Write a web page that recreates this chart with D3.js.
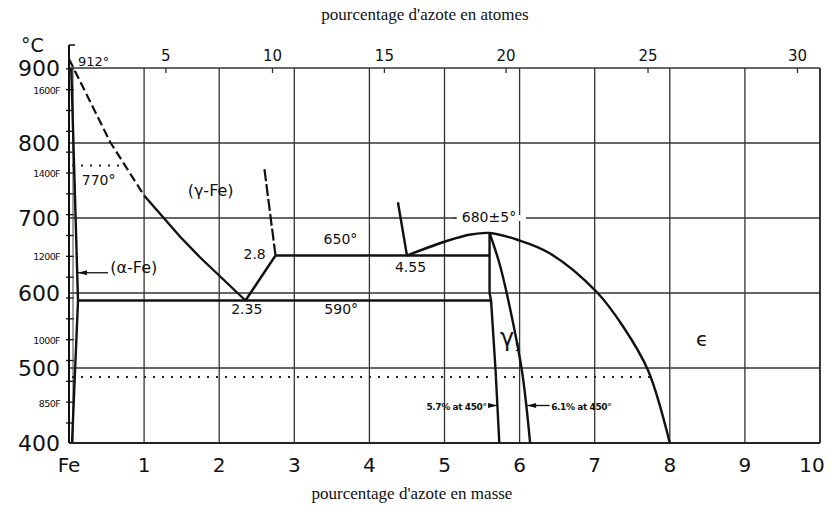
<!DOCTYPE html>
<html>
<head>
<meta charset="utf-8">
<script src="https://cdn.jsdelivr.net/npm/d3@7"></script>
<style>
  body { margin: 0; background: #fff; }
  text { font-family: "DejaVu Sans", sans-serif; fill: #111; }
  .title { font-family: "Liberation Serif", "DejaVu Serif", serif; }
</style>
</head>
<body>
<svg id="chart" width="830" height="506"></svg>
<script>
// --- data (mass % N, temperature °C) ---
var massTicks = [0, 1, 2, 3, 4, 5, 6, 7, 8, 9, 10];
var massLabels = ["Fe", "1", "2", "3", "4", "5", "6", "7", "8", "9", "10"];
var tempTicks = [900, 800, 700, 600, 500, 400];
var atomLabels = ["5", "10", "15", "20", "25", "30"];
var atomTickMass = [1.29, 2.71, 4.2, 5.82, 7.71, 9.7];
var fLabels = ["1600F", "1400F", "1200F", "1000F", "850F"];
var fLabelTemps = [871, 760, 649, 538, 454];

var alphaGammaDashed = [[0, 912], [0.55, 801], [1.0, 730]];
var alphaGammaSolid = [[1.0, 730], [1.48, 675], [1.74, 648], [2.35, 590]];
var eutectoidRise = [[2.35, 590], [2.75, 650]];
var gammaUpper = [[2.75, 650], [2.6, 767]];
var line650 = [[2.75, 650], [5.6, 650]];
var line590 = [[0.12, 590], [5.62, 590]];
var upper455 = [[4.5, 650], [4.38, 721]];
var domeCurve = [[4.5, 650], [5.05, 670], [5.35, 678], [5.6, 680], [5.97, 671],
                 [6.4, 653], [7.03, 601], [7.38, 555], [7.71, 497], [8.0, 400]];
var gammaPrimeLeft = [[5.6, 680], [5.6, 600], [5.62, 590], [5.68, 497], [5.73, 400]];
var gammaPrimeRight = [[5.6, 680], [5.73, 640], [5.85, 590], [6.03, 497], [6.14, 400]];
var alphaSolvus = [[0.03, 900], [0.12, 590], [0.04, 400]];
var dotted770 = [[0.04, 770], [0.7, 770]];
var dotted488 = [[0.04, 488], [7.75, 488]];

var svg = d3.select("svg#chart");

var x = d3.scaleLinear().domain([0, 10]).range([69, 820]);
var y = d3.scaleLinear().domain([400, 900]).range([443, 68]);

var line = d3.line().x(d => x(d[0])).y(d => y(d[1]));
var smooth = d3.line().x(d => x(d[0])).y(d => y(d[1])).curve(d3.curveCatmullRom.alpha(0.5));

// grid
svg.selectAll("line.vgrid")
  .data(massTicks.slice(1, 10))
  .enter().append("line")
  .attr("class", "vgrid")
  .attr("x1", d => x(d)).attr("x2", d => x(d))
  .attr("y1", y(900)).attr("y2", y(400))
  .attr("stroke", "#333").attr("stroke-width", 1.3);

svg.selectAll("line.hgrid")
  .data(tempTicks)
  .enter().append("line")
  .attr("class", "hgrid")
  .attr("x1", x(0)).attr("x2", x(10))
  .attr("y1", d => y(d)).attr("y2", d => y(d))
  .attr("stroke", "#333").attr("stroke-width", 1.3);

// frame
svg.append("line").attr("x1", x(0)).attr("x2", x(0)).attr("y1", 45).attr("y2", y(400))
  .attr("stroke", "#111").attr("stroke-width", 2);
svg.append("line").attr("x1", x(10)).attr("x2", x(10)).attr("y1", y(900)).attr("y2", y(400))
  .attr("stroke", "#222").attr("stroke-width", 1.8);
svg.append("line").attr("x1", x(0)).attr("x2", x(10)).attr("y1", y(400)).attr("y2", y(400))
  .attr("stroke", "#222").attr("stroke-width", 2);
svg.append("line").attr("x1", x(0)).attr("x2", x(0) + 6).attr("y1", 45).attr("y2", 45)
  .attr("stroke", "#111").attr("stroke-width", 1.5);

// fahrenheit ladder on the left edge
var fScale = d3.scaleLinear().domain([400 * 1.8 + 32, 900 * 1.8 + 32]).range([443, 68]);
svg.selectAll("line.fTick")
  .data(d3.range(800, 1651, 50))
  .enter().append("line")
  .attr("class", "fTick")
  .attr("x1", x(0) - 3).attr("x2", x(0) + 5)
  .attr("y1", d => fScale(d)).attr("y2", d => fScale(d))
  .attr("stroke", "#111").attr("stroke-width", 1.3);
svg.append("line").attr("x1", x(0) + 4).attr("x2", x(0) + 4).attr("y1", y(900)).attr("y2", y(400))
  .attr("stroke", "#444").attr("stroke-width", 1);

// at% ticks on top
svg.selectAll("line.atTick")
  .data(atomTickMass)
  .enter().append("line")
  .attr("class", "atTick")
  .attr("x1", d => x(d)).attr("x2", d => x(d))
  .attr("y1", y(900)).attr("y2", y(900) + 5)
  .attr("stroke", "#333").attr("stroke-width", 1.3);

// white gap for 680 label on the 700 line
svg.append("rect").attr("x", 456).attr("y", y(700) - 3).attr("width", 70).attr("height", 6)
  .attr("fill", "#fff");
svg.append("line").attr("x1", 453).attr("x2", 457).attr("y1", y(700)).attr("y2", y(700))
  .attr("stroke", "#333").attr("stroke-width", 1.3);

// phase boundaries
var solid = [alphaGammaSolid, eutectoidRise, line650, line590, upper455, gammaPrimeLeft, alphaSolvus];
svg.selectAll("path.boundary")
  .data(solid)
  .enter().append("path")
  .attr("class", "boundary")
  .attr("d", line)
  .attr("fill", "none").attr("stroke", "#111").attr("stroke-width", 2.4);

svg.append("path").attr("d", smooth(domeCurve))
  .attr("fill", "none").attr("stroke", "#111").attr("stroke-width", 2.4);
svg.append("path").attr("d", smooth(gammaPrimeRight))
  .attr("fill", "none").attr("stroke", "#111").attr("stroke-width", 2.4);

svg.append("path").attr("d", line(alphaGammaDashed))
  .attr("fill", "none").attr("stroke", "#111").attr("stroke-width", 2.2)
  .attr("stroke-dasharray", "9,4");
svg.append("path").attr("d", line(gammaUpper))
  .attr("fill", "none").attr("stroke", "#111").attr("stroke-width", 2.2)
  .attr("stroke-dasharray", "12,3");

svg.selectAll("path.dotted")
  .data([dotted770, dotted488])
  .enter().append("path")
  .attr("class", "dotted")
  .attr("d", line)
  .attr("fill", "none").attr("stroke", "#222").attr("stroke-width", 2)
  .attr("stroke-dasharray", "2,7");

// axis labels
svg.selectAll("text.tempLabel")
  .data(tempTicks)
  .enter().append("text")
  .attr("class", "tempLabel")
  .attr("x", 60).attr("y", d => y(d) + 8)
  .attr("text-anchor", "end")
  .attr("font-size", 22)
  .text(d => d);

svg.append("text").attr("x", 21).attr("y", 52).attr("font-size", 19).text("°C");

svg.selectAll("text.fLabel")
  .data(fLabels)
  .enter().append("text")
  .attr("class", "fLabel")
  .attr("x", 60).attr("y", (d, i) => y(fLabelTemps[i]) + 4)
  .attr("text-anchor", "end")
  .attr("font-size", 9.5)
  .attr("letter-spacing", -0.6)
  .text(d => d);

svg.selectAll("text.massLabel")
  .data(massTicks)
  .enter().append("text")
  .attr("class", "massLabel")
  .attr("x", (d, i) => i == 10 ? x(d) - 8 : x(d))
  .attr("y", 472)
  .attr("text-anchor", "middle")
  .attr("font-size", 20)
  .text((d, i) => massLabels[i]);

svg.selectAll("text.atLabel")
  .data(atomTickMass)
  .enter().append("text")
  .attr("class", "atLabel")
  .attr("x", d => x(d)).attr("y", 61)
  .attr("text-anchor", "middle")
  .attr("font-size", 15)
  .text((d, i) => atomLabels[i]);

svg.append("text").attr("class", "title")
  .attr("x", 425).attr("y", 20).attr("text-anchor", "middle").attr("font-size", 17)
  .text("pourcentage d'azote en atomes");
svg.append("text").attr("class", "title")
  .attr("x", 412).attr("y", 499).attr("text-anchor", "middle").attr("font-size", 17)
  .text("pourcentage d'azote en masse");

// annotations
var notes = [
  {t: "912°", m: 0.12, c: 903, s: 13, a: "start"},
  {t: "770°", m: 0.17, c: 744, s: 14, a: "start"},
  {t: "(α-Fe)", m: 0.55, c: 627, s: 16, a: "start"},
  {t: "(γ-Fe)", m: 1.58, c: 730, s: 16, a: "start"},
  {t: "2.8", m: 2.62, c: 645, s: 14, a: "end"},
  {t: "650°", m: 3.39, c: 665, s: 14, a: "start"},
  {t: "4.55", m: 4.34, c: 628, s: 14, a: "start"},
  {t: "2.35", m: 2.16, c: 572, s: 14, a: "start"},
  {t: "590°", m: 3.4, c: 572, s: 14, a: "start"},
  {t: "680±5°", m: 5.23, c: 695, s: 14, a: "start"},
  {t: "ϵ", m: 8.43, c: 529, s: 20, a: "middle"}
];
svg.selectAll("text.note")
  .data(notes)
  .enter().append("text")
  .attr("class", "note")
  .attr("x", d => x(d.m)).attr("y", d => y(d.c))
  .attr("text-anchor", d => d.a)
  .attr("font-size", d => d.s)
  .text(d => d.t);

var gammaOne = svg.append("text").attr("x", x(5.74)).attr("y", y(530)).attr("font-size", 24);
gammaOne.append("tspan").text("γ");
gammaOne.append("tspan").attr("font-size", 11).attr("dy", 5).text("1");

svg.append("text").attr("x", x(5.56)).attr("y", y(450) + 4).attr("text-anchor", "end")
  .attr("font-size", 9).attr("font-weight", "bold").attr("letter-spacing", -0.4)
  .text("5.7% at 450°");
svg.append("text").attr("x", x(6.42)).attr("y", y(450) + 4)
  .attr("font-size", 9).attr("font-weight", "bold").attr("letter-spacing", -0.4)
  .text("6.1% at 450°");

// arrows
var arrows = [
  {from: [0.52, 627], to: [0.12, 627]},
  {from: [5.58, 450], to: [5.7, 450]},
  {from: [6.4, 450], to: [6.1, 450]}
];
svg.selectAll("line.arrow")
  .data(arrows)
  .enter().append("line")
  .attr("class", "arrow")
  .attr("x1", d => x(d.from[0])).attr("y1", d => y(d.from[1]))
  .attr("x2", d => x(d.to[0])).attr("y2", d => y(d.to[1]))
  .attr("stroke", "#111").attr("stroke-width", 1.3);
svg.selectAll("path.head")
  .data(arrows)
  .enter().append("path")
  .attr("class", "head")
  .attr("d", function(d) {
    var tx = x(d.to[0]), ty = y(d.to[1]);
    var dir = d.to[0] > d.from[0] ? -1 : 1;
    return "M" + tx + "," + ty + "L" + (tx + dir * 9) + "," + (ty - 2.5) + "L" + (tx + dir * 9) + "," + (ty + 2.5) + "Z";
  })
  .attr("fill", "#111");
</script>
</body>
</html>
